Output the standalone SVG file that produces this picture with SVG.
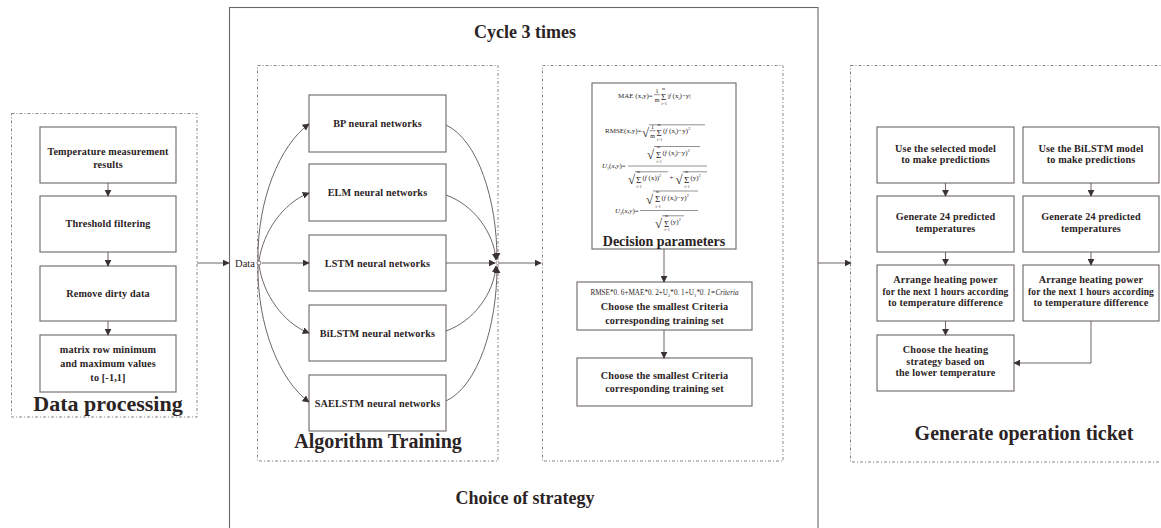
<svg xmlns="http://www.w3.org/2000/svg" width="1161" height="528" viewBox="0 0 1161 528">
<defs>
<marker id="ah" viewBox="0 0 10 10" refX="9" refY="5" markerWidth="7" markerHeight="7" markerUnits="userSpaceOnUse" orient="auto"><path d="M0,0 L10,5 L0,10 Z" fill="#3a3132"/></marker>
<style>
.bx{fill:#fff;stroke:#6e6566;stroke-width:1.1}
.dash{fill:none;stroke:#8a8586;stroke-width:1;stroke-dasharray:3 2 1 2}
.ar{fill:none;stroke:#5e5556;stroke-width:0.9;marker-end:url(#ah)}
.t{font-family:"Liberation Serif","Times New Roman",serif;font-weight:bold;font-size:10.2px;fill:#2b2324;text-anchor:middle;letter-spacing:0.15px}
.h{font-family:"Liberation Serif","Times New Roman",serif;font-weight:bold;fill:#2b2324;text-anchor:middle}
.f{font-family:"Liberation Serif","Times New Roman",serif;fill:#2b2324}
.fi{font-style:italic}
.v{stroke:#2b2324;stroke-width:0.5}
</style>
</defs>
<rect width="1161" height="528" fill="#fff"/>

<g id="cycle">
<rect x="229.5" y="7.5" width="588.5" height="525" fill="none" stroke="#6e6566" stroke-width="1.1"/>
<text class="h" x="525" y="38" font-size="18">Cycle 3 times</text>
<text class="h" x="525" y="504" font-size="18">Choice of strategy</text>
</g>

<g id="data-processing">
<rect class="dash" x="11.5" y="113.5" width="185.5" height="303.5"/>
<text class="h" x="108" y="411" font-size="22">Data processing</text>
</g>
<g id="dp1"><rect class="bx" x="40" y="127" width="136" height="56"/>
<text class="t" x="108" y="155">Temperature measurement</text><text class="t" x="108" y="168">results</text></g>
<g id="dp2"><rect class="bx" x="40" y="196" width="136" height="56"/>
<text class="t" x="108" y="227">Threshold filtering</text></g>
<g id="dp3"><rect class="bx" x="40" y="266" width="136" height="55"/>
<text class="t" x="108" y="297">Remove dirty data</text></g>
<g id="dp4"><rect class="bx" x="40" y="335" width="136" height="57"/>
<text class="t" x="108" y="353">matrix row minimum</text><text class="t" x="108" y="367">and maximum values</text><text class="t" x="108" y="381">to [-1,1]</text></g>

<g id="algorithm-training">
<rect class="dash" x="257.5" y="65.5" width="240.5" height="395.5"/>
<text class="h" x="378" y="448" font-size="20">Algorithm Training</text>
</g>
<g id="data-node">
<text class="f" x="245" y="267" font-size="10.5" text-anchor="middle">Data</text>
<circle cx="259" cy="263" r="2" fill="#fff" stroke="#5e5556" stroke-width="0.8"/>
</g>
<g id="bp"><rect class="bx" x="309" y="95" width="137" height="57"/><text class="t" x="377.5" y="127">BP neural networks</text></g>
<g id="elm"><rect class="bx" x="309" y="164" width="137" height="57"/><text class="t" x="377.5" y="196">ELM neural networks</text></g>
<g id="lstm"><rect class="bx" x="309" y="235" width="137" height="56"/><text class="t" x="377.5" y="267">LSTM neural networks</text></g>
<g id="bilstm"><rect class="bx" x="309" y="305" width="137" height="56"/><text class="t" x="377.5" y="337">BiLSTM neural networks</text></g>
<g id="saelstm"><rect class="bx" x="309" y="375" width="137" height="56"/><text class="t" x="377.5" y="407">SAELSTM neural networks</text></g>

<g id="strategy">
<rect class="dash" x="542.5" y="65.5" width="240.5" height="395.5"/>
</g>
<g id="decision">
<rect class="bx" x="592" y="83" width="144" height="166"/>
<g font-size="7">
<!-- MAE -->
<text class="f" x="618" y="98">MAE (x,y)=</text>
<text class="f" x="657" y="93" text-anchor="middle" font-size="6">1</text>
<line class="v" x1="654" y1="94.7" x2="660" y2="94.7"/>
<text class="f" x="657" y="101.5" text-anchor="middle" font-size="6">m</text>
<text class="f" x="661" y="99.5" font-size="9">Σ</text>
<text class="f" x="662" y="90.3" font-size="4">m</text>
<text class="f" x="661.5" y="105.3" font-size="4">i=1</text>
<text class="f" x="667.5" y="98">|<tspan class="fi">f</tspan> (x<tspan font-size="4" dy="1.5">i</tspan><tspan dy="-1.5">)−y|</tspan></text>
<!-- RMSE -->
<text class="f" x="605" y="133">RMSE(x,y)=</text>
<text class="f" x="642" y="137" font-size="13">√</text>
<line class="v" x1="649" y1="124.8" x2="705" y2="124.8"/>
<text class="f" x="652.5" y="129" text-anchor="middle" font-size="6">1</text>
<line class="v" x1="649.5" y1="130.7" x2="655.5" y2="130.7"/>
<text class="f" x="652.5" y="137.5" text-anchor="middle" font-size="6">m</text>
<text class="f" x="656.5" y="135.5" font-size="9">Σ</text>
<text class="f" x="657.5" y="126.3" font-size="4">m</text>
<text class="f" x="657" y="141.3" font-size="4">i=1</text>
<text class="f" x="663" y="133">(<tspan class="fi">f</tspan> (x<tspan font-size="4" dy="1.5">i</tspan><tspan dy="-1.5">)−y)</tspan><tspan font-size="4" dy="-3">2</tspan></text>
<!-- U1 -->
<text class="f" x="602" y="168"><tspan class="fi">U</tspan><tspan font-size="4" dy="1.5">1</tspan><tspan dy="-1.5">(</tspan><tspan class="fi">x,y</tspan>)=</text>
<line class="v" x1="628" y1="166" x2="707" y2="166" stroke-width="0.6"/>
<text class="f" x="647" y="159" font-size="13">√</text>
<line class="v" x1="654" y1="146.5" x2="700" y2="146.5"/>
<text class="f" x="656" y="157.5" font-size="9">Σ</text>
<text class="f" x="657" y="148.3" font-size="4">m</text>
<text class="f" x="656.5" y="163.2" font-size="4">i=1</text>
<text class="f" x="662.5" y="155">(<tspan class="fi">f</tspan> (x<tspan font-size="4" dy="1.5">i</tspan><tspan dy="-1.5">)−y)</tspan><tspan font-size="4" dy="-3">2</tspan></text>
<text class="f" x="628" y="184" font-size="13">√</text>
<line class="v" x1="635" y1="171.8" x2="668" y2="171.8"/>
<text class="f" x="636" y="182.5" font-size="9">Σ</text>
<text class="f" x="637" y="173.3" font-size="4">m</text>
<text class="f" x="636.5" y="188.2" font-size="4">i=1</text>
<text class="f" x="642.5" y="180">(<tspan class="fi">f</tspan> (x))<tspan font-size="4" dy="-3">2</tspan></text>
<text class="f" x="669.5" y="180">+</text>
<text class="f" x="675.5" y="184" font-size="13">√</text>
<line class="v" x1="682.5" y1="171.8" x2="707" y2="171.8"/>
<text class="f" x="684" y="182.5" font-size="9">Σ</text>
<text class="f" x="685" y="173.3" font-size="4">m</text>
<text class="f" x="684.5" y="188.2" font-size="4">i=1</text>
<text class="f" x="690.5" y="180">(y)<tspan font-size="4" dy="-3">2</tspan></text>
<!-- U2 -->
<text class="f" x="615" y="213"><tspan class="fi">U</tspan><tspan font-size="4" dy="1.5">2</tspan><tspan dy="-1.5">(</tspan><tspan class="fi">x,y</tspan>)=</text>
<line class="v" x1="640" y1="210.5" x2="698" y2="210.5" stroke-width="0.6"/>
<text class="f" x="646" y="203.5" font-size="13">√</text>
<line class="v" x1="653" y1="191" x2="698" y2="191"/>
<text class="f" x="655" y="202" font-size="9">Σ</text>
<text class="f" x="656" y="192.8" font-size="4">m</text>
<text class="f" x="655.5" y="207.7" font-size="4">i=1</text>
<text class="f" x="661.5" y="199.5">(<tspan class="fi">f</tspan> (x<tspan font-size="4" dy="1.5">i</tspan><tspan dy="-1.5">)−y)</tspan><tspan font-size="4" dy="-3">2</tspan></text>
<text class="f" x="655" y="228" font-size="13">√</text>
<line class="v" x1="662" y1="215.8" x2="684" y2="215.8"/>
<text class="f" x="664" y="226.5" font-size="9">Σ</text>
<text class="f" x="665" y="217.3" font-size="4">m</text>
<text class="f" x="664.5" y="231.3" font-size="4">i=1</text>
<text class="f" x="670.5" y="224">(y)<tspan font-size="4" dy="-3">2</tspan></text>
</g>
<text class="h" x="664" y="246" font-size="14">Decision parameters</text>
</g>
<g id="criteria">
<rect class="bx" x="577" y="282" width="175" height="48"/>
<text class="f" x="664.5" y="295" text-anchor="middle" font-size="7.2">RMSE*0. 6+MAE*0. 2+U<tspan font-size="4.5" dy="1.5">2</tspan><tspan dy="-1.5">*0. 1+U</tspan><tspan font-size="4.5" dy="1.5">1</tspan><tspan dy="-1.5" class="fi">*0. 1=Criteria</tspan></text>
<text class="t" x="664.5" y="310">Choose the smallest Criteria</text>
<text class="t" x="664.5" y="324">corresponding training set</text>
</g>
<g id="choose">
<rect class="bx" x="577" y="358" width="175" height="48"/>
<text class="t" x="664.5" y="379">Choose the smallest Criteria</text>
<text class="t" x="664.5" y="392">corresponding training set</text>
</g>

<g id="ticket">
<rect class="dash" x="850.5" y="65.5" width="320" height="396.5"/>
<text class="h" x="1024" y="440" font-size="20">Generate operation ticket</text>
</g>
<g id="l1"><rect class="bx" x="877" y="127" width="137" height="56"/>
<text class="t" x="945.5" y="152">Use the selected model</text><text class="t" x="945.5" y="163">to make predictions</text></g>
<g id="r1"><rect class="bx" x="1023" y="127" width="136" height="56"/>
<text class="t" x="1091" y="152">Use the BiLSTM model</text><text class="t" x="1091" y="163">to make predictions</text></g>
<g id="l2"><rect class="bx" x="877" y="196" width="137" height="56"/>
<text class="t" x="945.5" y="220">Generate 24 predicted</text><text class="t" x="945.5" y="232">temperatures</text></g>
<g id="r2"><rect class="bx" x="1023" y="196" width="136" height="56"/>
<text class="t" x="1091" y="220">Generate 24 predicted</text><text class="t" x="1091" y="232">temperatures</text></g>
<g id="l3"><rect class="bx" x="877" y="265" width="137" height="56"/>
<text class="t" x="945.5" y="283">Arrange heating power</text><text class="t" x="945.5" y="295" textLength="126" lengthAdjust="spacingAndGlyphs">for the next 1 hours according</text><text class="t" x="945.5" y="306">to temperature difference</text></g>
<g id="r3"><rect class="bx" x="1023" y="265" width="136" height="56"/>
<text class="t" x="1091" y="283">Arrange heating power</text><text class="t" x="1091" y="295" textLength="126" lengthAdjust="spacingAndGlyphs">for the next 1 hours according</text><text class="t" x="1091" y="306">to temperature difference</text></g>
<g id="l4"><rect class="bx" x="877" y="335" width="137" height="56"/>
<text class="t" x="945.5" y="353">Choose the heating</text><text class="t" x="945.5" y="365">strategy based on</text><text class="t" x="945.5" y="376">the lower temperature</text></g>

<g id="connectors">
<line class="ar" x1="108" y1="183" x2="108" y2="196"/>
<line class="ar" x1="108" y1="252" x2="108" y2="266"/>
<line class="ar" x1="108" y1="321" x2="108" y2="335"/>
<line class="ar" x1="197" y1="263" x2="229" y2="263"/>
<path class="ar" d="M258,261 C257,200 280,145 309,124"/>
<path class="ar" d="M259,261 C263,232 283,203 309,193"/>
<line class="ar" x1="262" y1="263" x2="309" y2="263"/>
<path class="ar" d="M259,265 C263,294 283,323 309,333"/>
<path class="ar" d="M258,265 C257,326 280,381 309,402"/>
<path class="ar" d="M446,125 C478,140 497,200 497,259"/>
<path class="ar" d="M446,195 C474,205 494,233 496,260"/>
<line class="ar" x1="446" y1="263" x2="495" y2="263"/>
<path class="ar" d="M446,331 C474,321 494,293 496,266"/>
<path class="ar" d="M446,401 C478,386 497,326 497,267"/>
<circle cx="497.5" cy="263" r="1.5" fill="#fff" stroke="#5e5556" stroke-width="0.6"/>
<line class="ar" x1="499" y1="263" x2="541" y2="263"/>
<line class="ar" x1="664" y1="249" x2="664" y2="282"/>
<line class="ar" x1="664" y1="330" x2="664" y2="358"/>
<line class="ar" x1="818" y1="263" x2="851" y2="263"/>
<line class="ar" x1="945.5" y1="183" x2="945.5" y2="196"/>
<line class="ar" x1="1091" y1="183" x2="1091" y2="196"/>
<line class="ar" x1="945.5" y1="252" x2="945.5" y2="265"/>
<line class="ar" x1="1091" y1="252" x2="1091" y2="265"/>
<line class="ar" x1="945.5" y1="321" x2="945.5" y2="335"/>
<path class="ar" d="M1091,321 V363 H1014"/>
</g>
</svg>
